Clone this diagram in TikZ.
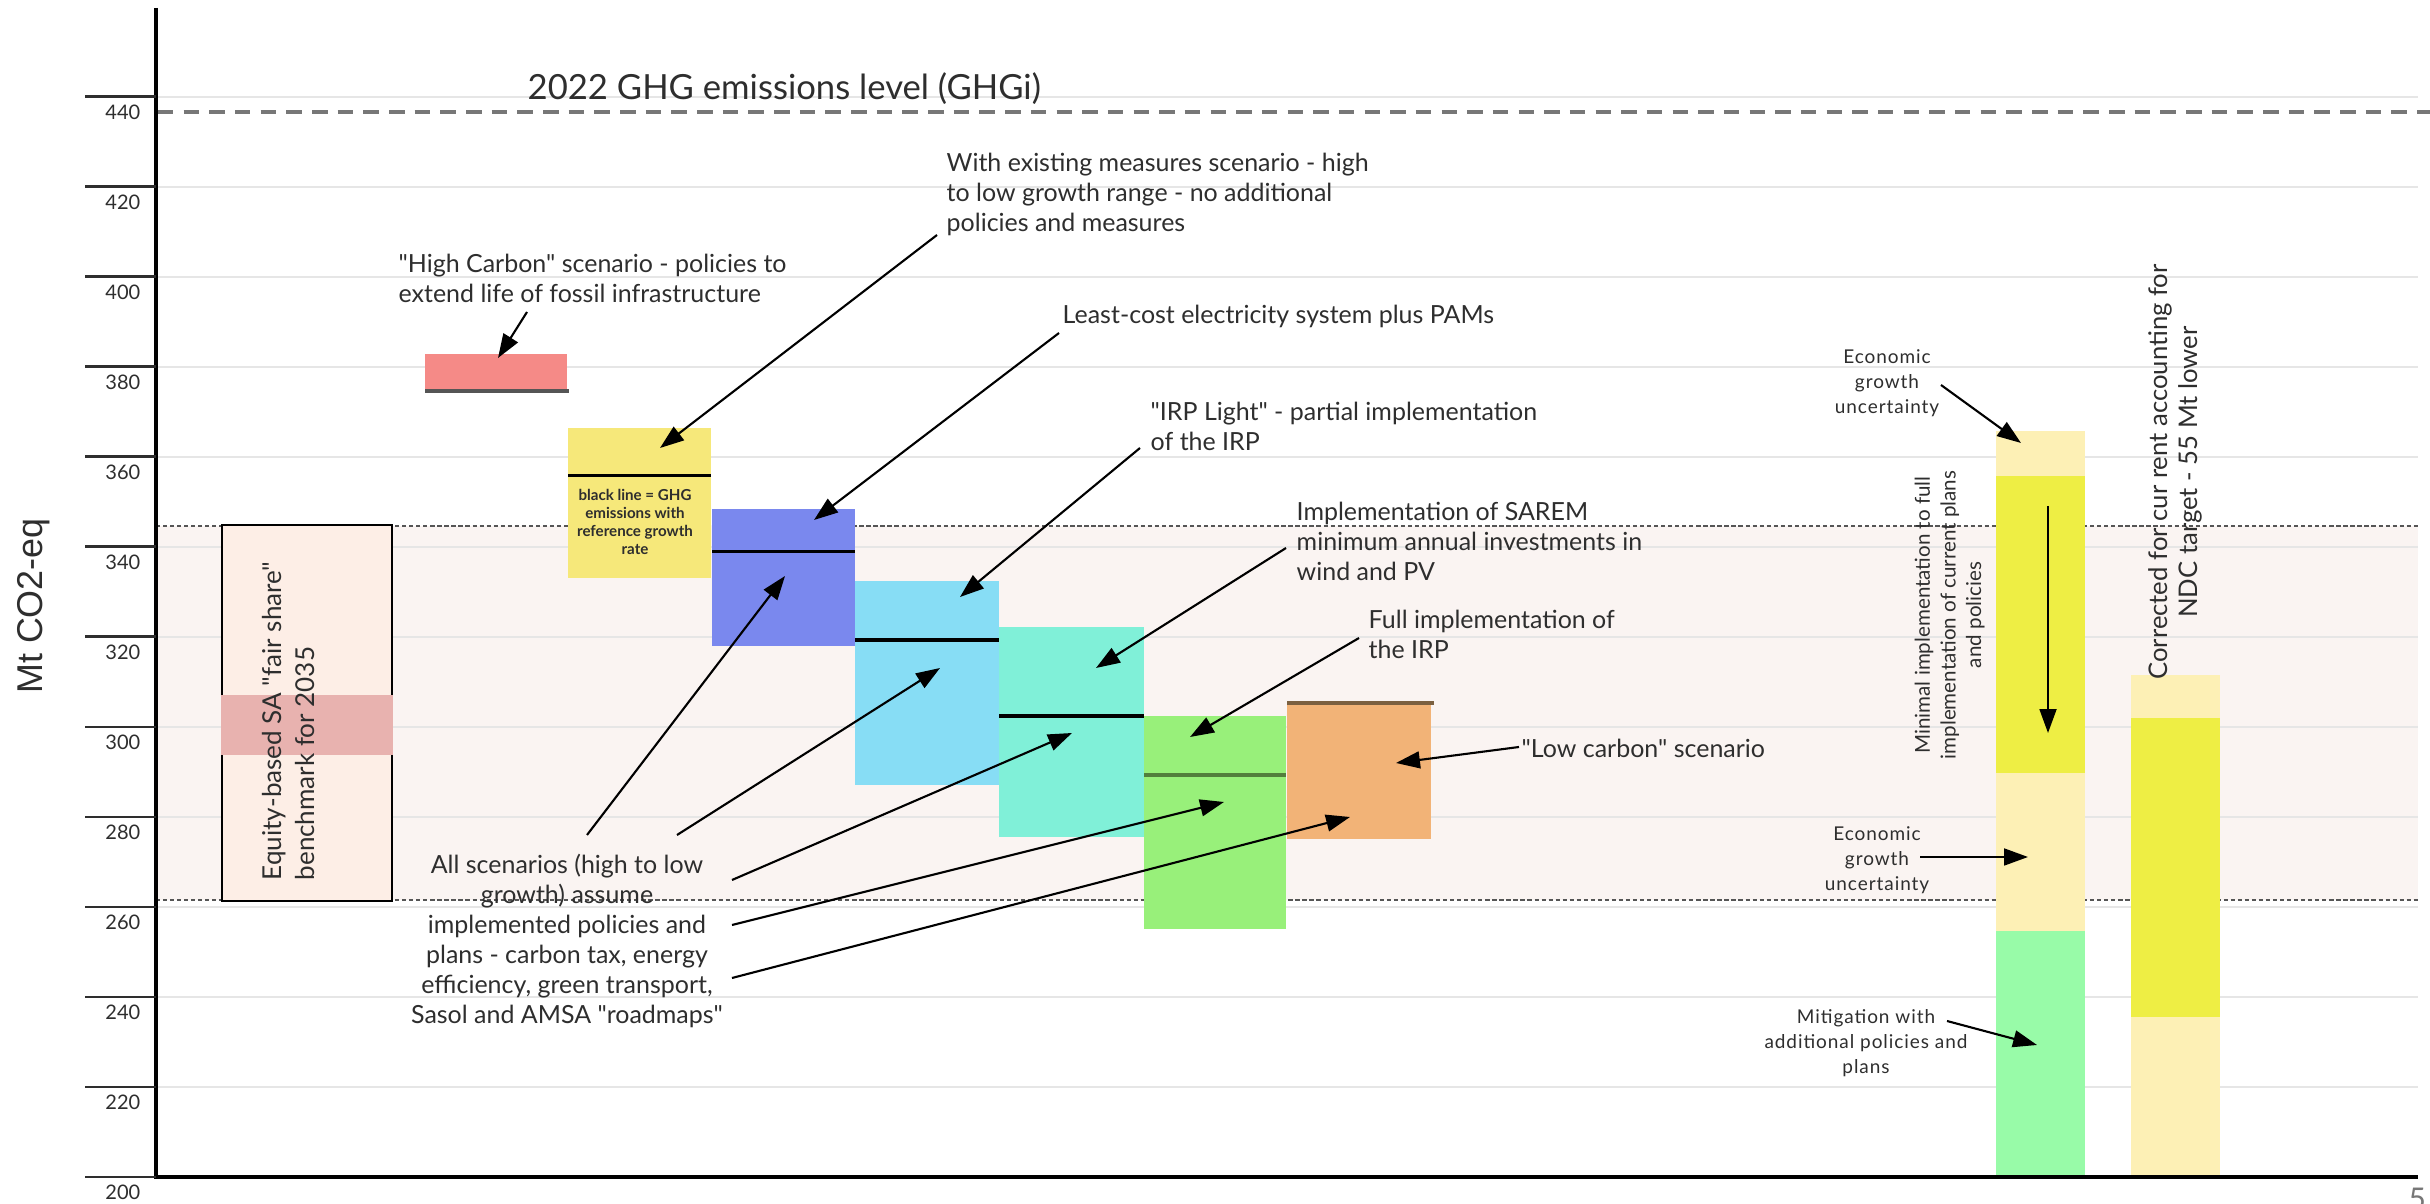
\documentclass[tikz,border=0pt]{standalone}
\usepackage{fontspec}
\setmainfont{Lato}[Ligatures=TeXOff]
\newfontfamily\axisfont{Liberation Sans}[Ligatures=TeXOff]
\newfontfamily\spacedfont{Lato}[LetterSpace=5,Ligatures=TeXOff]
\usetikzlibrary{arrows.meta}

\definecolor{txtDark}{HTML}{2E2E2E}
\definecolor{gridGray}{HTML}{E6E6E6}
\definecolor{bandPink}{HTML}{FAF4F2}
\definecolor{ghgGray}{HTML}{777777}
\definecolor{dotGray}{HTML}{555555}
\definecolor{eqFill}{HTML}{FDEEE6}
\definecolor{eqBand}{HTML}{E8B2AF}
\definecolor{cRed}{HTML}{F58A87}
\definecolor{cYellow}{HTML}{F6E87A}
\definecolor{cBlue}{HTML}{7A88EE}
\definecolor{cCyan}{HTML}{87DDF5}
\definecolor{cTeal}{HTML}{80F0D8}
\definecolor{cGreen}{HTML}{98F07A}
\definecolor{cOrange}{HTML}{F2B377}
\definecolor{cBright}{HTML}{EEEE44}
\definecolor{cPale}{HTML}{FDF0B5}
\definecolor{cMint}{HTML}{98FBA8}
\definecolor{lineGreen}{HTML}{527F3C}
\definecolor{lineBrown}{HTML}{7B6040}

\tikzset{
  gridln/.style={draw=gridGray, line width=0.55pt},
  dotln/.style={draw=dotGray, line width=0.45pt, dash pattern=on 1.2pt off 0.8pt},
  tickln/.style={draw=txtDark, line width=0.85pt},
  ticklabel/.style={anchor=east, inner sep=0pt, text=txtDark, font=\fontsize{5.7}{6}\selectfont},
  refln/.style={line width=0.9pt},
  annot/.style={inner sep=0pt, align=left, anchor=north west, text=txtDark,
    font=\fontsize{7.1}{8.54}\selectfont},
  smallnote/.style={inner sep=0pt, align=center, anchor=north, text=txtDark,
    font=\spacedfont\fontsize{5.4}{7.1}\selectfont},
  arr/.style={draw=black, line width=0.6pt, -{Triangle[length=6.8pt,width=4.8pt]}},
}

\begin{document}
\begin{tikzpicture}[x=0.01cm, y=-0.01cm]
\useasboundingbox (0,0) rectangle (2430,1204);
\fill[white] (0,0) rectangle (2430,1204);

% benchmark band and grid
\fill[bandPink] (156,526) rectangle (2418,900);
\foreach \v in {220,240,...,440}
  \draw[gridln] (156,{1177-4.5*(\v-200)}) -- (2418,{1177-4.5*(\v-200)});
\draw[dotln] (156,526) -- (2418,526);
\draw[dotln] (156,900) -- (2418,900);

% 2022 emissions level
\draw[draw=ghgGray, line width=1.3pt, dash pattern=on 4.4pt off 2.9pt] (158,112) -- (2430,112);
\node[inner sep=0pt, anchor=north west, text=txtDark, font=\fontsize{9.85}{11}\selectfont]
  (title) at (527,72) {2022 GHG emissions level (GHGi)};

% axes, ticks and labels
\draw[line width=1.2pt] (156,8) -- (156,1178);
\draw[line width=1.4pt] (154,1177) -- (2418,1177);
\foreach \v in {200,220,...,440} {
  \draw[tickln] (85,{1177-4.5*(\v-200)}) -- (156,{1177-4.5*(\v-200)});
  \node[ticklabel] (tick\v) at (141,{1177-4.5*(\v-200)+15.5}) {\v};
}
\node[rotate=90, inner sep=0pt, text=txtDark, font=\axisfont\fontsize{10.2}{12}\selectfont]
  (ylab) at (34,606) {Mt CO2-eq};

% equity-based fair share benchmark
\filldraw[fill=eqFill, draw=black, line width=0.75pt] (222,525) rectangle (392,901);
\fill[eqBand] (221,695) rectangle (393,755);
\node[rotate=90, inner sep=0pt, anchor=north west, align=left, text=txtDark,
  font=\fontsize{7.4}{9.4}\selectfont] (equity) at (262,881)
  {Equity-based SA "fair share"\\benchmark for 2035};

% scenario boxes with their reference-growth lines
\fill[cRed] (425,354) rectangle (567,391);
\draw[refln, draw=dotGray] (425,391) -- (569,391);

\fill[cYellow] (568,428) rectangle (711,578);
\draw[refln] (568,475.5) -- (711,475.5);
\node[inner sep=0pt, anchor=north, align=center, text=txtDark,
  font=\bfseries\fontsize{4.3}{5.05}\selectfont] (keynote) at (635,489)
  {black line = GHG\\emissions with\\reference growth\\rate};

\fill[cBlue] (712,509) rectangle (855,646);
\draw[refln] (712,551.5) -- (855,551.5);

\fill[cCyan] (855,581) rectangle (999,785);
\draw[refln] (855,640) -- (999,640);

\fill[cTeal] (999,627) rectangle (1144,837);
\draw[refln] (999,716) -- (1144,716);

\fill[cGreen] (1144,716) rectangle (1286,929);
\draw[line width=1.2pt, draw=lineGreen] (1144,775) -- (1286,775);

\fill[cOrange] (1287,703) rectangle (1431,839);
\draw[line width=1.2pt, draw=lineBrown] (1287,703) -- (1434,703);

% implementation range bars
\fill[cPale] (1996,431) rectangle (2085,476);
\fill[cBright] (1996,476) rectangle (2085,773);
\fill[cPale] (1996,773) rectangle (2085,931);
\fill[cMint] (1996,931) rectangle (2085,1175);

\fill[cPale] (2131,675) rectangle (2220,718);
\fill[cBright] (2131,718) rectangle (2220,1017);
\fill[cPale] (2131,1017) rectangle (2220,1175);

% scenario annotations
\node[annot] (hc) at (398,253)
  {"High Carbon" scenario - policies to\\extend life of fossil infrastructure};
\node[annot] (wem) at (946,152)
  {With existing measures scenario - high\\to low growth range - no additional\\policies and measures};
\node[annot] (lcost) at (1062,304) {Least-cost electricity system plus PAMs};
\node[annot] (irpl) at (1150,401) {"IRP Light" - partial implementation\\of the IRP};
\node[annot] (sarem) at (1296,501)
  {Implementation of SAREM\\minimum annual investments in\\wind and PV};
\node[annot] (fullirp) at (1368,609) {Full implementation of\\the IRP};
\node[annot] (lowc) at (1521,738) {"Low carbon" scenario};
\node[annot, align=center, anchor=north] (allsc) at (567,853)
  {All scenarios (high to low\\growth) assume\\implemented policies and\\plans - carbon tax, energy\\efficiency, green transport,\\Sasol and AMSA "roadmaps"};

% notes on the implementation range
\node[smallnote] (eco1) at (1887,349) {Economic\\growth\\uncertainty};
\node[smallnote] (eco2) at (1877,826) {Economic\\growth\\uncertainty};
\node[smallnote] (mitig) at (1866,1009) {Mitigation with\\additional policies and\\plans};
\node[rotate=90, inner sep=0pt, anchor=north, align=center, text=txtDark,
  font=\fontsize{5.85}{7.3}\selectfont] (minimal) at (1914,615)
  {Minimal implementation to full\\implementation of current plans\\and policies};
\node[rotate=90, inner sep=0pt, anchor=north, align=center, text=txtDark,
  font=\fontsize{7.3}{8.54}\selectfont] (corrected) at (2148,472)
  {Corrected for cur rent accounting for\\NDC target - 55 Mt lower};

\node[inner sep=0pt, anchor=north west, text=ghgGray, font=\fontsize{8.5}{9}\selectfont]
  (pagenum) at (2408,1187) {5};

% arrow end points
\coordinate (hcA) at (527,312);   \coordinate (hcB) at (498,358);
\coordinate (wemA) at (937,235);  \coordinate (wemB) at (660,448);
\coordinate (lcA) at (1059,333);  \coordinate (lcB) at (814,520);
\coordinate (irpA) at (1140,448); \coordinate (irpB) at (960,597);
\coordinate (sarA) at (1286,548); \coordinate (sarB) at (1096,668);
\coordinate (fulA) at (1359,638); \coordinate (fulB) at (1190,737);
\coordinate (lowA) at (1519,747); \coordinate (lowB) at (1396,763);
\coordinate (a1A) at (587,835);   \coordinate (a1B) at (785,576);
\coordinate (a2A) at (677,835);   \coordinate (a2B) at (940,668);
\coordinate (a3A) at (732,880);   \coordinate (a3B) at (1072,733);
\coordinate (a4A) at (732,925);   \coordinate (a4B) at (1224,802);
\coordinate (a5A) at (732,978);   \coordinate (a5B) at (1350,817);
\coordinate (e1A) at (1941,385);  \coordinate (e1B) at (2021,443);
\coordinate (mnA) at (2048,506);  \coordinate (mnB) at (2048,733);
\coordinate (e2A) at (1920,857);  \coordinate (e2B) at (2028,857);
\coordinate (miA) at (1947,1021); \coordinate (miB) at (2037,1045);

\foreach \s in {hc,wem,lc,irp,sar,ful,low,a1,a2,a3,a4,a5,e1,mn,e2,mi}
  \draw[arr] (\s A) -- (\s B);
\end{tikzpicture}
\end{document}
